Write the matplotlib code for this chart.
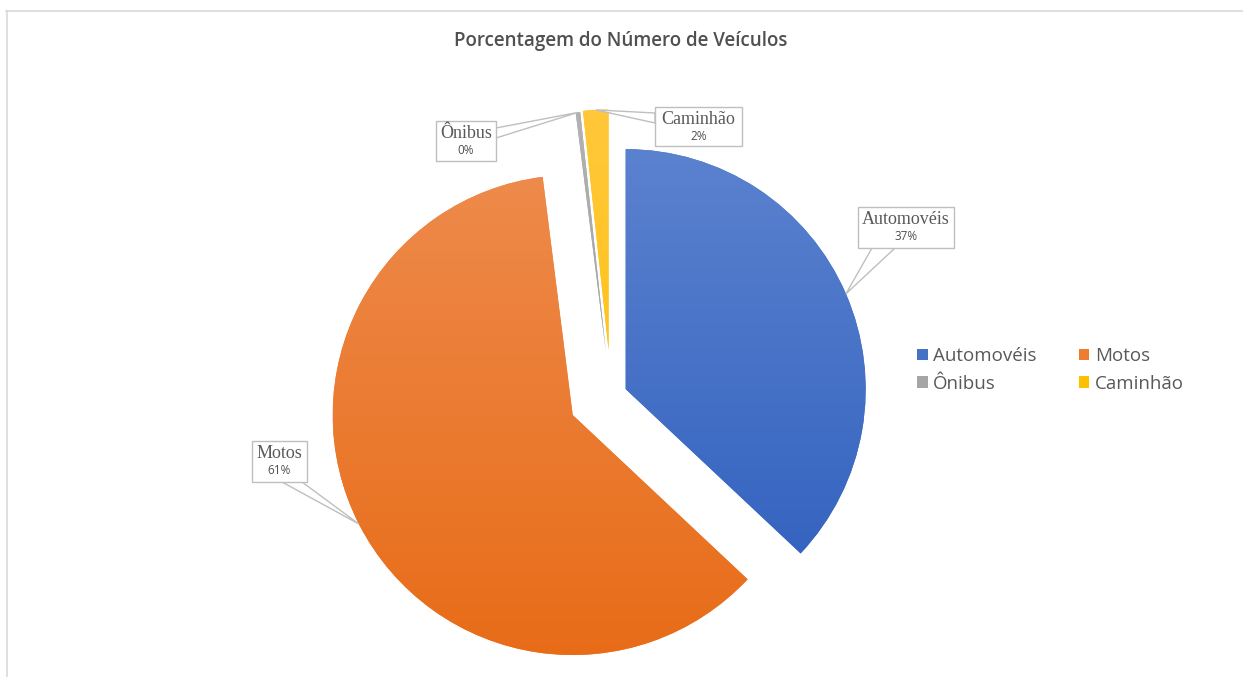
import numpy as np
import matplotlib
matplotlib.use("Agg")
import matplotlib.pyplot as plt
from matplotlib.colors import LinearSegmentedColormap
from matplotlib.patches import Polygon, Rectangle
from matplotlib.lines import Line2D

# data
categories = ["Automovéis", "Motos", "Ônibus", "Caminhão"]
label_names = ["Automovéis", "Motos", "Ônibus", "Caminhão"]
values = [37.0, 61.0, 0.3, 1.7]
# office palette, light (top) and dark (bottom) end of each gradient
base_colors = ["#4472c4", "#ed7d31", "#a5a5a5", "#ffc000"]
top_colors = ["#5b82cf", "#ee8a4b", "#b2b2b2", "#ffc83a"]
bottom_colors = ["#2e5ebd", "#e86c18", "#999999", "#ffbf00"]

W, H = 1243, 677
fig = plt.figure(figsize=(W / 100, H / 100), dpi=100)
ax = fig.add_axes([0, 0, 1, 1])
ax.set_xlim(0, W)
ax.set_ylim(0, H)
ax.set_aspect("equal")
ax.axis("off")

radius = 240
center = (611, H - 395.5)
explode = [16, 43, 45, 46]

wedges, _ = ax.pie(values, explode=explode, colors=base_colors, startangle=90,
                   counterclock=False, radius=radius, center=center,
                   wedgeprops=dict(linewidth=0))

# vertical gradient fill clipped to each slice
grad = np.linspace(0, 1, 256).reshape(-1, 1)
for w, c0, c1 in zip(wedges, top_colors, bottom_colors):
    cm = LinearSegmentedColormap.from_list("g", [c1, c0])
    cx, cy = w.center
    im = ax.imshow(grad, cmap=cm, origin="lower", aspect="auto",
                   extent=[cx - radius, cx + radius, cy - radius, cy + radius],
                   zorder=w.get_zorder() + 0.1)
    im.set_clip_path(w)
ax.set_xlim(0, W)
ax.set_ylim(0, H)

# data label boxes (left, top, width, height in pixels from top-left)
boxes = [(858, 207, 96, 41), (252, 441, 55, 41), (436, 121, 60, 40), (655, 107, 87, 39)]
# where the callout leaves the box (two points)
bases = [[(872, 248), (895, 248)], [(282, 482), (302, 482)],
         [(496, 128), (496, 138)], [(655, 113), (655, 123)]]
edge = "#bfbfbf"
for w, name, v, (bx, by, bw, bh), base in zip(wedges, label_names, values, boxes, bases):
    cx, cy = w.center
    tm = np.deg2rad((w.theta1 + w.theta2) / 2)
    tip = (cx + radius * np.cos(tm), cy + radius * np.sin(tm))
    pts = [(base[0][0], H - base[0][1]), tip, (base[1][0], H - base[1][1])]
    ax.add_patch(Polygon(pts, closed=True, fc="white", ec=edge, lw=1, zorder=5))
    ax.add_patch(Rectangle((bx, H - by - bh), bw, bh, fc="white", ec=edge, lw=1, zorder=6))
    ax.text(bx + bw / 2, H - by - 13, name, ha="center", va="center",
            family="Liberation Serif", fontsize=13, color="#595959", zorder=7)
    ax.text(bx + bw / 2, H - by - 30, f"{round(v):.0f}%", ha="center", va="center",
            family="Open Sans", fontsize=8.5, color="#505050", zorder=7)

# title
fig.text(621 / W, 1 - 41 / H, "Porcentagem do Número de Veículos", ha="center", va="center",
         family="Open Sans", fontweight="semibold", fontsize=13.5, color="#505050")

# legend, filled row by row like the reference
order = [0, 2, 1, 3]
leg = ax.legend([wedges[i] for i in order], [categories[i] for i in order], ncol=2,
                frameon=False, loc="center left",
                bbox_to_anchor=(908 / W, 1 - 370 / H), bbox_transform=fig.transFigure,
                prop=dict(family="Open Sans", size=13.5), labelcolor="#595959",
                handlelength=0.55, handleheight=0.55, handletextpad=0.3,
                columnspacing=2.25, labelspacing=0.5, borderpad=0)

# chart area border (top and left)
fig.add_artist(Line2D([6 / W, 1], [1 - 11 / H, 1 - 11 / H], color="#d9d9d9", lw=1.2,
                      transform=fig.transFigure))
fig.add_artist(Line2D([7 / W, 7 / W], [0, 1 - 11 / H], color="#d9d9d9", lw=1.2,
                      transform=fig.transFigure))

fig.savefig("out.png", dpi=100, facecolor="white")
